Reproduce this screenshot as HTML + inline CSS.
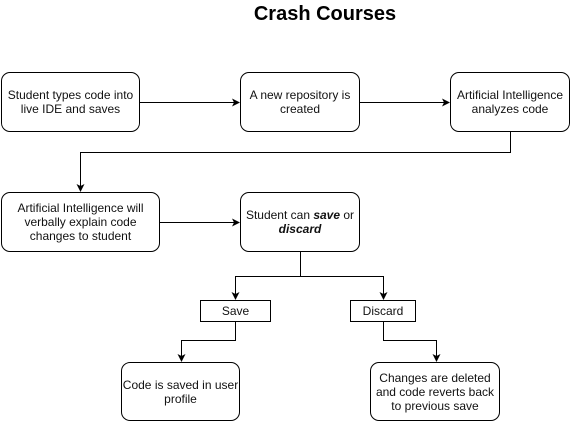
<!DOCTYPE html>
<html><head><style>
body{margin:0;width:571px;height:423px;background:#fff;overflow:hidden;position:relative;font-family:"Liberation Sans",Arial,sans-serif}
.b{position:absolute;box-sizing:border-box;border:1px solid #000;border-radius:9px;background:#fff;display:flex;align-items:center;justify-content:center;text-align:center;font-size:12px;line-height:14px;color:#111}
.b span{display:block}
.r{border-radius:0}
svg{position:absolute;left:0;top:0}
</style></head><body>
<div style="position:absolute;left:230px;top:2px;width:190px;text-align:center;font-weight:bold;font-size:20px;line-height:24px">Crash Courses</div>
<svg width="571" height="423">
<defs><marker id="a" markerWidth="8" markerHeight="8" refX="7" refY="4" orient="auto" markerUnits="userSpaceOnUse"><path d="M0,0 L8,4 L0,8 L2,4 Z" fill="#000"/></marker></defs>
<g stroke="#000" stroke-width="1" fill="none">
<path d="M140,102.5 H239" marker-end="url(#a)"/>
<path d="M360,102.5 H449" marker-end="url(#a)"/>
<path d="M510.5,132 V152.5 H80.5 V191" marker-end="url(#a)"/>
<path d="M160,222.5 H239" marker-end="url(#a)"/>
<path d="M300.5,252 V276.5 H235.5 V299" marker-end="url(#a)"/>
<path d="M300.5,276.5 H383.5 V299" marker-end="url(#a)"/>
<path d="M235.5,322 V340.5 H181.5 V361" marker-end="url(#a)"/>
<path d="M383.5,322 V340.5 H436.5 V361" marker-end="url(#a)"/>
</g></svg>
<div class="b" style="left:1px;top:72px;width:139px;height:60px"><span>Student types code into<br>live IDE and saves</span></div>
<div class="b" style="left:240px;top:72px;width:120px;height:60px"><span>A new repository is<br>created</span></div>
<div class="b" style="left:450px;top:72px;width:120px;height:60px"><span>Artificial Intelligence<br>analyzes code</span></div>
<div class="b" style="left:1px;top:192px;width:159px;height:60px"><span>Artificial Intelligence will<br>verbally explain code<br>changes to student</span></div>
<div class="b" style="left:240px;top:192px;width:120px;height:60px"><span>Student can <b><i>save</i></b> or<br><b><i>discard</i></b></span></div>
<div class="b r" style="left:200px;top:300px;width:71px;height:22px"><span>Save</span></div>
<div class="b r" style="left:350px;top:300px;width:66px;height:22px"><span>Discard</span></div>
<div class="b" style="left:121px;top:362px;width:119px;height:59px"><span>Code is saved in user<br>profile</span></div>
<div class="b" style="left:370px;top:362px;width:130px;height:59px"><span>Changes are deleted<br>and code reverts back<br>to previous save</span></div>
</body></html>
